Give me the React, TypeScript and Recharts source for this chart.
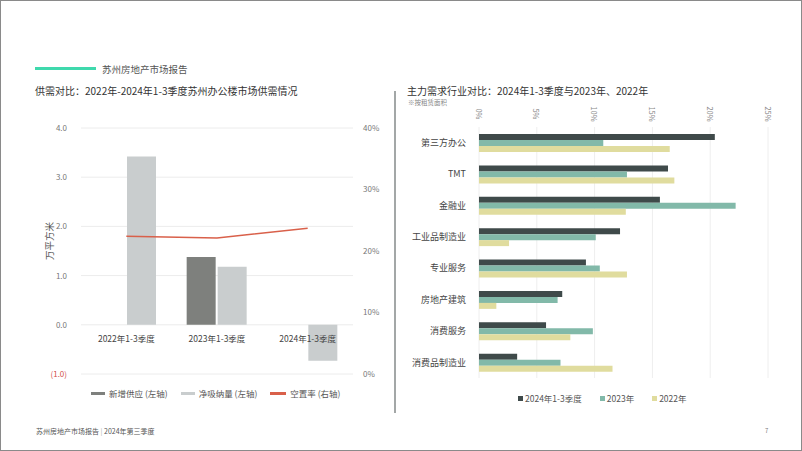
import {
  ComposedChart,
  BarChart,
  Bar,
  Line,
  XAxis,
  YAxis,
  CartesianGrid,
} from "recharts";

const font = '"Noto Sans CJK SC", "Noto Sans", sans-serif';

// left chart
const periods = ["2022年1-3季度", "2023年1-3季度", "2024年1-3季度"];
const newSupply = [0, 1.38, 0];
const netAbsorption = [3.42, 1.18, -0.73];
const vacancyRate = [0.224, 0.221, 0.237];
const leftTicks = [-1, 0, 1, 2, 3, 4];
const rightTicks = [0, 0.1, 0.2, 0.3, 0.4];

// right chart
const industries = [
  "第三方办公",
  "TMT",
  "金融业",
  "工业品制造业",
  "专业服务",
  "房地产建筑",
  "消费服务",
  "消费品制造业",
];
const share2024 = [0.204, 0.1635, 0.1565, 0.122, 0.0925, 0.072, 0.058, 0.033];
const share2023 = [0.1075, 0.128, 0.222, 0.101, 0.1045, 0.068, 0.0985, 0.0705];
const share2022 = [0.165, 0.169, 0.127, 0.026, 0.128, 0.015, 0.079, 0.1155];
const pctTicks = [0, 0.05, 0.1, 0.15, 0.2, 0.25];

const supplyData = periods.map((p, i) => ({
  name: p,
  supply: newSupply[i],
  absorption: netAbsorption[i],
  vacancy: vacancyRate[i],
}));

const industryData = industries.map((n, i) => ({
  name: n,
  y2024: share2024[i],
  y2023: share2023[i],
  y2022: share2022[i],
}));

const leftLegend = [
  { label: "新增供应 (左轴)", color: "#7e807d", w: 14 },
  { label: "净吸纳量 (左轴)", color: "#c9cdce", w: 14 },
  { label: "空置率 (右轴)", color: "#d9604a", w: 16 },
];
const rightLegend = [
  { label: "2024年1-3季度", color: "#3f4a4a" },
  { label: "2023年", color: "#82b9a9" },
  { label: "2022年", color: "#e0dc9e" },
];

const LeftTick = (props: any) => {
  const { x, y, payload } = props;
  const neg = payload.value < 0;
  return (
    <text x={x} y={y} dy={3} textAnchor="end" fontSize={8} fill={neg ? "#d2504a" : "#777"}>
      {neg ? `(${Math.abs(payload.value).toFixed(1)})` : payload.value.toFixed(1)}
    </text>
  );
};

// category labels sit just under the zero line, not at the bottom of the plot
const PeriodTick = (props: any) => {
  const { x, y, payload } = props;
  return (
    <text x={x} y={y - 40} textAnchor="middle" fontSize={8.5} fill="#444">
      {payload.value}
    </text>
  );
};

const PctTick = (props: any) => {
  const { x, y, payload } = props;
  const cy = y - 5;
  return (
    <text
      x={x}
      y={cy}
      textAnchor="middle"
      dominantBaseline="central"
      fontSize={7.5}
      fill="#888"
      transform={`rotate(90 ${x} ${cy})`}
    >
      {`${Math.round(payload.value * 100)}%`}
    </text>
  );
};

export default function App() {
  return (
    <div
      style={{
        position: "absolute",
        left: 0,
        top: 0,
        width: 802,
        height: 451,
        background: "#fff",
        fontFamily: font,
        border: "1px solid #8a8a8a",
        boxSizing: "border-box",
        overflow: "hidden",
      }}
    >
      <div style={{ position: "absolute", left: 34, top: 66, width: 61, height: 3, background: "#3fd9ad" }} />
      <div style={{ position: "absolute", left: 101, top: 60, fontSize: 9.5, color: "#555", lineHeight: "16px" }}>
        苏州房地产市场报告
      </div>
      <div style={{ position: "absolute", left: 34, top: 82, fontSize: 10, color: "#333", lineHeight: "16px" }}>
        供需对比：2022年-2024年1-3季度苏州办公楼市场供需情况
      </div>
      <div style={{ position: "absolute", left: 406, top: 82, fontSize: 10, color: "#333", lineHeight: "16px" }}>
        主力需求行业对比：2024年1-3季度与2023年、2022年
      </div>
      <div style={{ position: "absolute", left: 407, top: 96, fontSize: 6.5, color: "#888", lineHeight: "10px" }}>
        ※按租赁面积
      </div>
      <div style={{ position: "absolute", left: 393, top: 90, width: 1.5, height: 322, background: "#a3a7a7" }} />
      <div
        style={{
          position: "absolute",
          left: 48,
          top: 240,
          fontSize: 9.5,
          color: "#555",
          transform: "translate(-50%, -50%) rotate(-90deg)",
          transformOrigin: "center",
          whiteSpace: "nowrap",
        }}
      >
        万平方米
      </div>

      <div style={{ position: "absolute", left: 0, top: 0 }}>
        <ComposedChart
          width={395}
          height={451}
          data={supplyData}
          margin={{ top: 127, right: 0, left: 40, bottom: 48 }}
          barGap={2}
        >
          <CartesianGrid yAxisId="left" vertical={false} stroke="#ececec" />
          <XAxis
            dataKey="name"
            height={30}
            interval={0}
            axisLine={false}
            tickLine={false}
            tick={<PeriodTick />}
          />
          <YAxis
            yAxisId="left"
            width={40}
            domain={[-1, 4]}
            ticks={leftTicks}
            axisLine={false}
            tickLine={false}
            tickMargin={8}
            tick={<LeftTick />}
          />
          <YAxis
            yAxisId="right"
            orientation="right"
            width={43}
            domain={[0, 0.4]}
            ticks={rightTicks}
            axisLine={false}
            tickLine={false}
            tickMargin={4}
            tickFormatter={(v) => `${Math.round(v * 100)}%`}
            tick={{ fontSize: 8, fill: "#777" }}
          />
          <Bar yAxisId="left" dataKey="supply" fill="#7e807d" barSize={29} isAnimationActive={false} />
          <Bar yAxisId="left" dataKey="absorption" fill="#c9cdce" barSize={29} isAnimationActive={false} />
          <Line
            yAxisId="right"
            dataKey="vacancy"
            stroke="#d9604a"
            strokeWidth={1.5}
            dot={false}
            isAnimationActive={false}
          />
        </ComposedChart>
      </div>

      <div style={{ position: "absolute", left: 395, top: 0 }}>
        <BarChart
          width={407}
          height={451}
          data={industryData}
          layout="vertical"
          margin={{ top: 106, right: 35, left: 0, bottom: 74 }}
          barGap={0}
          barSize={6}
        >
          <CartesianGrid horizontal={false} stroke="#eeeeee" />
          <XAxis
            type="number"
            orientation="top"
            height={20}
            domain={[0, 0.25]}
            ticks={pctTicks}
            interval={0}
            axisLine={false}
            tickLine={false}
            tick={<PctTick />}
          />
          <YAxis
            type="category"
            dataKey="name"
            width={83}
            interval={0}
            axisLine={false}
            tickLine={false}
            tickMargin={7}
            tick={{ fontSize: 9, fill: "#444" }}
          />
          <Bar dataKey="y2024" fill="#3f4a4a" isAnimationActive={false} />
          <Bar dataKey="y2023" fill="#82b9a9" isAnimationActive={false} />
          <Bar dataKey="y2022" fill="#e0dc9e" isAnimationActive={false} />
        </BarChart>
      </div>

      <div style={{ position: "absolute", left: 90, top: 386, display: "flex", alignItems: "center", fontSize: 8.5, color: "#555" }}>
        {leftLegend.map((l, i) => (
          <div key={l.label} style={{ display: "flex", alignItems: "center", marginLeft: i === 0 ? 0 : 13 }}>
            <span style={{ width: l.w, height: 3, background: l.color, marginRight: 4, display: "inline-block" }} />
            <span>{l.label}</span>
          </div>
        ))}
      </div>

      <div style={{ position: "absolute", left: 517, top: 391, display: "flex", alignItems: "center", fontSize: 8.5, color: "#555" }}>
        {rightLegend.map((l, i) => (
          <div key={l.label} style={{ display: "flex", alignItems: "center", marginLeft: i === 0 ? 0 : 18 }}>
            <span style={{ width: 5, height: 5, background: l.color, marginRight: 2, display: "inline-block" }} />
            <span>{l.label}</span>
          </div>
        ))}
      </div>

      <div style={{ position: "absolute", left: 35, top: 424, fontSize: 7, color: "#555", lineHeight: "12px" }}>
        苏州房地产市场报告<span style={{ color: "#aaa" }}> | </span>2024年第三季度
      </div>
      <div style={{ position: "absolute", left: 764, top: 425, fontSize: 6, color: "#777", lineHeight: "10px" }}>7</div>
    </div>
  );
}
